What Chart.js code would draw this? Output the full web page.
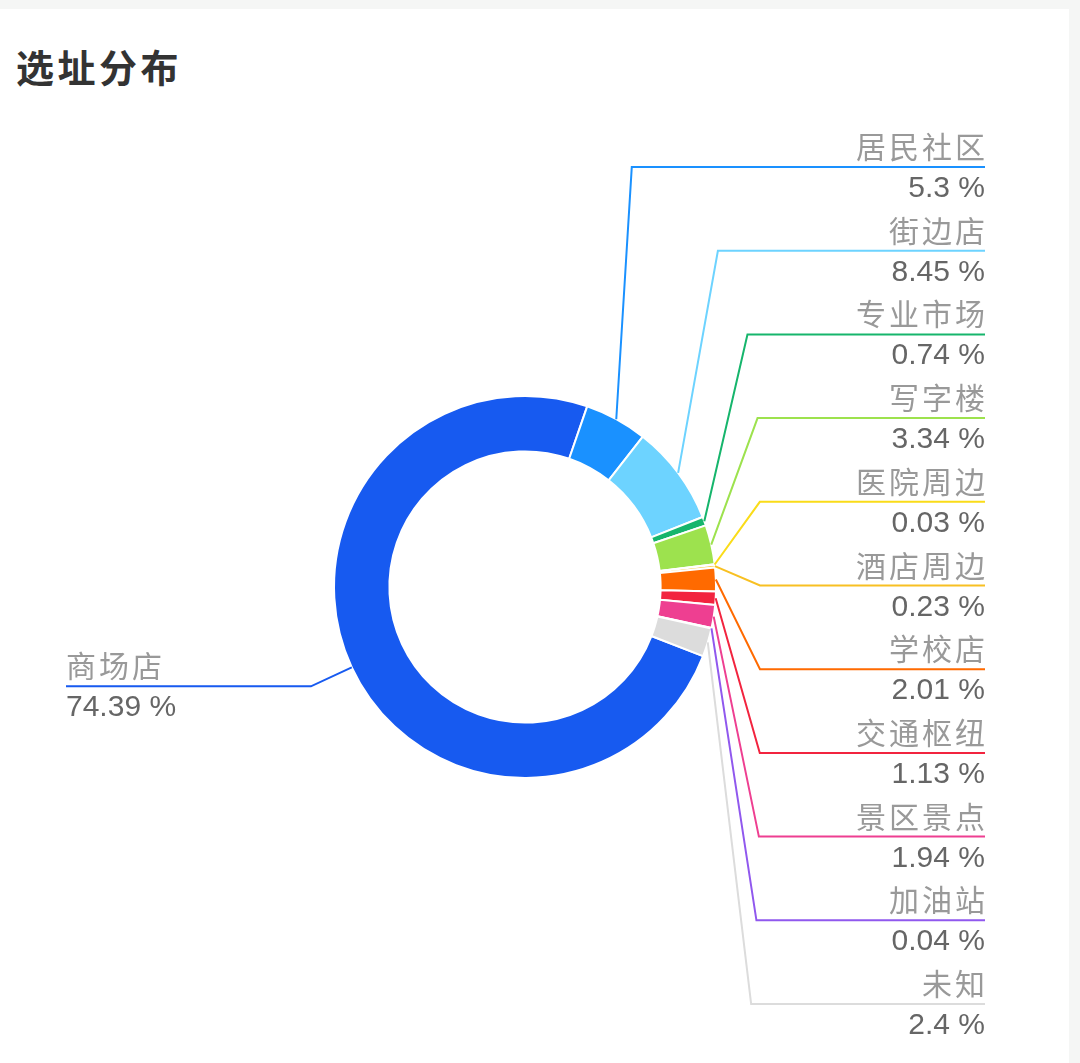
<!DOCTYPE html>
<html>
<head>
<meta charset="utf-8">
<script src="https://cdn.jsdelivr.net/npm/chart.js@4/dist/chart.umd.min.js"></script>
<style>
  html, body { margin: 0; padding: 0; background: #f5f6f5; }
  #card { position: absolute; left: 0; top: 9px; width: 1069px; height: 1054px; background: #fff; }
  #titulo { position: absolute; left: 16px; top: 40px; margin: 0; font: bold 38px "Noto Sans CJK SC", sans-serif; letter-spacing: 3.5px; color: #333; line-height: 52px; }
  #grafico { position: absolute; left: 0; top: 0; }
</style>
</head>
<body>
<div id="card"></div>
<h1 id="titulo">选址分布</h1>
<canvas id="grafico" width="1080" height="1063"></canvas>
<script>
// Categorias e percentuais
const categorias = ['商场店', '居民社区', '街边店', '专业市场', '写字楼', '医院周边', '酒店周边', '学校店', '交通枢纽', '景区景点', '加油站', '未知'];
const percentuais = [74.39, 5.3, 8.45, 0.74, 3.34, 0.03, 0.23, 2.01, 1.13, 1.94, 0.04, 2.4];

// Paleta de cores (uma por fatia)
const cores = ['#175af0', '#1a91ff', '#6dd3ff', '#16b56c', '#9de24e', '#fadc19', '#f8c022', '#ff6a00', '#f2243f', '#ee3f91', '#9058ee', '#dcdcdc'];

const fonte = '"Liberation Sans", "Noto Sans CJK SC", sans-serif';

// Plugin que desenha as linhas de chamada e os rótulos
const rotulos = {
    id: 'rotulos',
    afterDatasetsDraw(chart) {
        const ctx = chart.ctx;
        const arcos = chart.getDatasetMeta(0).data;
        const direita = 985;
        const topo = 167, fundo = 1004;
        const passo = (fundo - topo) / (arcos.length - 2);
        ctx.save();
        ctx.lineWidth = 2;
        ctx.font = '30px ' + fonte;
        let k = 0;
        arcos.forEach((arco, i) => {
            const p = arco.getProps(['x', 'y', 'startAngle', 'endAngle', 'outerRadius']);
            const meio = (p.startAngle + p.endAngle) / 2;
            const sx = p.x + Math.cos(meio) * p.outerRadius;
            const sy = p.y + Math.sin(meio) * p.outerRadius;
            const texto = String(percentuais[i]) + ' %';
            ctx.strokeStyle = cores[i];
            if (Math.cos(meio) < 0) {
                // Rótulo do lado esquerdo
                const ex = p.x + Math.cos(meio) * (p.outerRadius + 45);
                const ey = p.y + Math.sin(meio) * (p.outerRadius + 45);
                ctx.beginPath();
                ctx.moveTo(sx, sy);
                ctx.lineTo(ex, ey);
                ctx.lineTo(66, ey);
                ctx.stroke();
                ctx.textAlign = 'left';
                ctx.fillStyle = '#999';
                ctx.letterSpacing = '3px';
                ctx.fillText(categorias[i], 66, ey - 9);
                ctx.letterSpacing = '0px';
                ctx.fillStyle = '#666';
                ctx.fillText(texto, 66, ey + 30);
                return;
            }
            // Rótulos do lado direito, empilhados
            const ey = topo + passo * k++;
            const dy = ey - p.y;
            const D = dy < 0 ? 445 : 800;
            const f = 1 - Math.pow(Math.abs(dy) / D, 4);
            const ex = p.x + (p.outerRadius + 44) * Math.sqrt(Math.max(0, f));
            ctx.beginPath();
            ctx.moveTo(sx, sy);
            ctx.lineTo(ex, ey);
            ctx.lineTo(direita, ey);
            ctx.stroke();
            ctx.textAlign = 'right';
            ctx.fillStyle = '#999';
            ctx.letterSpacing = '3px';
            ctx.fillText(categorias[i], direita + 3, ey - 9);
            ctx.letterSpacing = '0px';
            ctx.fillStyle = '#666';
            ctx.fillText(texto, direita, ey + 30);
        });
        ctx.restore();
    }
};

const grafico = new Chart(document.getElementById('grafico').getContext('2d'), {
    type: 'doughnut',
    data: {
        labels: categorias,
        datasets: [{
            data: percentuais,
            backgroundColor: cores,
            borderColor: '#fff',
            borderWidth: 2
        }]
    },
    options: {
        responsive: false,
        animation: false,
        devicePixelRatio: 1,
        cutout: '71%',
        rotation: 111.2,
        layout: { padding: { left: 333, right: 363, top: 395, bottom: 284 } },
        plugins: {
            legend: { display: false },
            tooltip: { enabled: false }
        }
    },
    plugins: [rotulos]
});
</script>
</body>
</html>
